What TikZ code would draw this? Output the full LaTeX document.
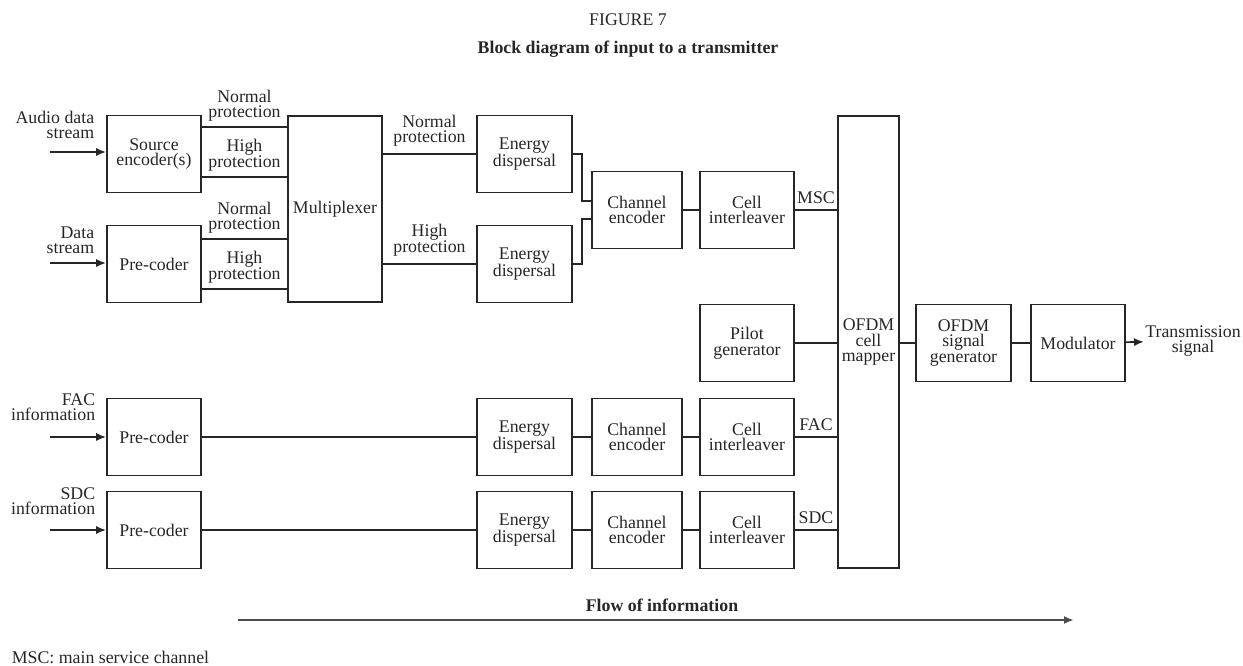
\documentclass[tikz,border=0pt]{standalone}
\usepackage{fontspec}
\usetikzlibrary{arrows.meta}
\setmainfont{Liberation Serif}
\begin{document}
\begin{tikzpicture}[x=1pt, y=-1pt, line width=1.7pt, color=black!85,
  font=\fontsize{17.8pt}{15.5pt}\selectfont, >={Latex[length=10pt, width=8pt]},
  block/.style={draw, inner sep=0pt, align=center, minimum width=94pt, minimum height=77pt},
  lbl/.style={inner sep=1.5pt, align=center},
  inlbl/.style={inner sep=0pt, align=right, anchor=south east}]
  \useasboundingbox (0, 0) rectangle (1243, 665);
  \node [anchor=base] (figno) at (628, 25) {FIGURE 7};
  \node [anchor=base, font=\fontsize{17.8pt}{15.5pt}\selectfont\bfseries] (figtitle) at (628, 53) {Block diagram of input to a transmitter};
  \node [block] (srcenc) at (154, 154) {Source\\encoder(s)};
  \node [block] (datapc) at (154, 264) {Pre-coder};
  \node [block, minimum height=186pt] (mux) at (335, 209) {Multiplexer};
  \node [block, minimum width=95pt] (ednorm) at (524.5, 154) {Energy\\dispersal};
  \node [block, minimum width=95pt] (edhigh) at (524.5, 264) {Energy\\dispersal};
  \node [block, minimum width=90pt] (cemsc) at (637, 210) {Channel\\encoder};
  \node [block] (cimsc) at (747, 210) {Cell\\interleaver};
  \node [block] (pilot) at (747, 343) {Pilot\\generator};
  \node [block, minimum width=61pt, minimum height=452pt] (mapper) at (868.5, 342) {OFDM\\cell\\mapper};
  \node [block, minimum width=95pt] (ofdmgen) at (963.5, 343) {OFDM\\signal\\generator};
  \node [block] (modul) at (1078, 343) {Modulator};
  \node [lbl, inner sep=0.5pt] (txsig) at (1193, 341) {Transmission\\signal};
  \node [block] (facpc) at (154, 437) {Pre-coder};
  \node [block, minimum width=95pt] (faced) at (524.5, 437) {Energy\\dispersal};
  \node [block, minimum width=90pt] (facce) at (637, 437) {Channel\\encoder};
  \node [block] (facci) at (747, 437) {Cell\\interleaver};
  \node [block] (sdcpc) at (154, 530) {Pre-coder};
  \node [block, minimum width=95pt] (sdced) at (524.5, 530) {Energy\\dispersal};
  \node [block, minimum width=90pt] (sdcce) at (637, 530) {Channel\\encoder};
  \node [block] (sdcci) at (747, 530) {Cell\\interleaver};
  \node [inlbl] (audiolbl) at (95, 140) {Audio data\\stream};
  \node [inlbl] (datalbl) at (95, 255) {Data\\stream};
  \node [inlbl] (faclbl) at (96, 422) {FAC\\information};
  \node [inlbl] (sdclbl) at (96, 516) {SDC\\information};
  \coordinate (audioin) at (50, 152);
  \coordinate (datain) at (50, 263);
  \coordinate (facin) at (50, 437);
  \coordinate (sdcin) at (50, 530);
  \draw [->] (audioin) -- (audioin -| srcenc.west);
  \draw [->] (datain) -- (datain -| datapc.west);
  \draw [->] (facin) -- (facin -| facpc.west);
  \draw [->] (sdcin) -- (sdcin -| sdcpc.west);
  \draw ([yshift=27pt]srcenc.east) -- ([yshift=27pt]srcenc.east -| mux.west) node [lbl, midway, above=3pt] {Normal\\protection};
  \draw ([yshift=-23pt]srcenc.east) -- ([yshift=-23pt]srcenc.east -| mux.west) node [lbl, midway, above=3pt] {High\\protection};
  \draw ([yshift=25pt]datapc.east) -- ([yshift=25pt]datapc.east -| mux.west) node [lbl, midway, above=3pt] {Normal\\protection};
  \draw ([yshift=-25pt]datapc.east) -- ([yshift=-25pt]datapc.east -| mux.west) node [lbl, midway, above=3pt] {High\\protection};
  \draw (ednorm.west -| mux.east) -- (ednorm.west) node [lbl, midway, above=5pt] {Normal\\protection};
  \draw (edhigh.west -| mux.east) -- (edhigh.west) node [lbl, midway, above=5pt] {High\\protection};
  \draw (ednorm.east) -- ++(9, 0) |- ([yshift=9pt]cemsc.west);
  \draw (edhigh.east) -- ++(9, 0) |- ([yshift=-9pt]cemsc.west);
  \draw (cemsc) -- (cimsc);
  \draw (cimsc.east) -- (cimsc.east -| mapper.west) node [lbl, midway, above=4pt] {MSC};
  \draw (pilot.east) -- (pilot.east -| mapper.west);
  \draw (mapper.east |- ofdmgen.west) -- (ofdmgen.west);
  \draw (ofdmgen) -- (modul);
  \draw [->] (modul) -- (txsig);
  \draw (facpc) -- (faced);
  \draw (faced) -- (facce);
  \draw (facce) -- (facci);
  \draw (facci.east) -- (facci.east -| mapper.west) node [lbl, midway, above=4pt] {FAC};
  \draw (sdcpc) -- (sdced);
  \draw (sdced) -- (sdcce);
  \draw (sdcce) -- (sdcci);
  \draw (sdcci.east) -- (sdcci.east -| mapper.west) node [lbl, midway, above=4pt] {SDC};
  \coordinate (flowbeg) at (238, 620);
  \coordinate (flowend) at (1074, 620);
  \draw [->, line width=2.5pt, black!70] (flowbeg) -- (flowend);
  \node [anchor=base, font=\fontsize{17.8pt}{15.5pt}\selectfont\bfseries] (flowlbl) at (662, 611) {Flow of information};
  \node [anchor=base west, inner sep=0pt] (abbrev) at (11, 663) {MSC: main service channel};
\end{tikzpicture}
\end{document}
